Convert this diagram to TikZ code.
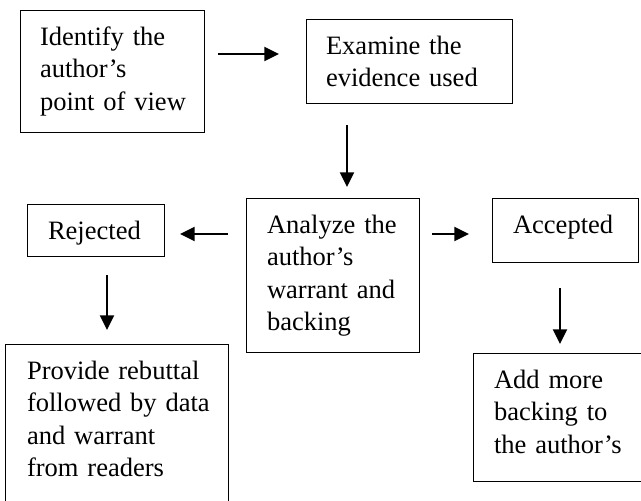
\documentclass[tikz,border=0pt]{standalone}
\usepackage{fontspec}
\setmainfont{Liberation Serif}
\usetikzlibrary{arrows.meta}
\begin{document}
\begin{tikzpicture}[x=0.75pt,y=-0.75pt,
  box/.style={draw, line width=0.75pt, anchor=north west, align=left,
    inner ysep=0pt, outer sep=0pt, text height=26.6pt,
    font=\fontsize{19.9pt}{24.3pt}\selectfont},
  arr/.style={line width=1.5pt, -{Triangle[length=11pt,width=10.5pt]}}]
\useasboundingbox (0,0) rectangle (641,500);
\clip (0,0) rectangle (641,500);

\node[box, minimum width=138pt, text width=108pt, inner xsep=15pt, text depth=64.9pt]
  (b1) at (20,10) {\mbox{Identify the}\\\mbox{author’s}\\\mbox{point of view}};
\node[box, minimum width=154.5pt, text width=124.5pt, inner xsep=15pt, text depth=37.1pt]
  (b2) at (306,19) {\mbox{Examine the}\\\mbox{evidence used}};
\node[box, minimum width=129.75pt, text width=98.25pt, inner xsep=15.75pt, text depth=89.6pt]
  (b3) at (246,198) {\mbox{Analyze the}\\\mbox{author’s}\\\mbox{warrant and}\\\mbox{backing}};
\node[box, minimum width=102.75pt, text width=71.25pt, inner xsep=15.75pt, text depth=13.1pt]
  (b4) at (27,204) {\mbox{Rejected}};
\node[box, minimum width=109.5pt, text width=78pt, inner xsep=15.75pt, text depth=22.1pt]
  (b5) at (492,198) {\mbox{Accepted}};
\node[box, minimum width=167.25pt, text width=134.25pt, inner xsep=16.5pt, text depth=105.4pt]
  (b6) at (5,344) {\mbox{Provide rebuttal}\\\mbox{followed by data}\\\mbox{and warrant}\\\mbox{from readers}};
\node[box, minimum width=135pt, text width=103.5pt, inner xsep=15.75pt, text depth=70.1pt]
  (b7) at (473,353) {\mbox{Add more}\\\mbox{backing to}\\\mbox{the author’s}};

\coordinate (a1s) at (218,54);  \coordinate (a1e) at (279,54);
\coordinate (a2s) at (347,125); \coordinate (a2e) at (347,187);
\coordinate (a3s) at (228,234); \coordinate (a3e) at (180,234);
\coordinate (a4s) at (432,234); \coordinate (a4e) at (469,234);
\coordinate (a5s) at (107,275); \coordinate (a5e) at (107,330);
\coordinate (a6s) at (560,288); \coordinate (a6e) at (560,344);

\draw[arr] (a1s) -- (a1e);
\draw[arr] (a2s) -- (a2e);
\draw[arr] (a3s) -- (a3e);
\draw[arr] (a4s) -- (a4e);
\draw[arr] (a5s) -- (a5e);
\draw[arr] (a6s) -- (a6e);
\end{tikzpicture}
\end{document}
